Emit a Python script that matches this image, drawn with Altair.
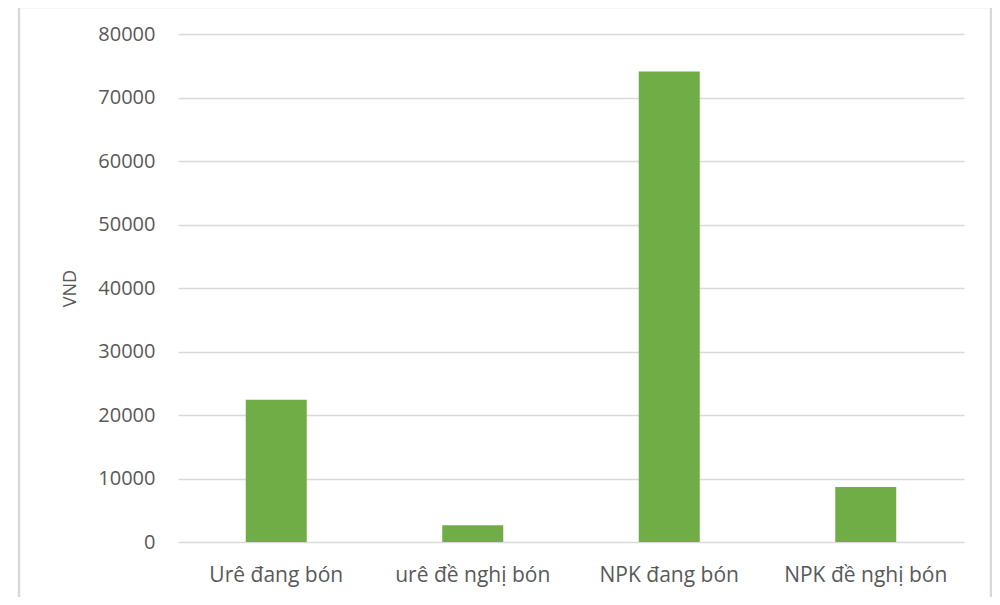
import altair as alt
import pandas as pd

categories = ["Urê đang bón", "urê đề nghị bón", "NPK đang bón", "NPK đề nghị bón"]
values = [22400, 2650, 74100, 8650]
y_ticks = [0, 10000, 20000, 30000, 40000, 50000, 60000, 70000, 80000]

df = pd.DataFrame({"cat": categories, "val": values})

FONT = "Open Sans"
TEXT = "#595959"
GRID = "#d9d9d9"

bars = alt.Chart(df).mark_bar(color="#70AD47", size=61).encode(
    x=alt.X("cat:N", sort=categories, title=None,
            scale=alt.Scale(paddingInner=0, paddingOuter=0),
            axis=alt.Axis(labelAngle=0, labelFont=FONT, labelFontSize=21,
                          labelColor=TEXT, labelPadding=22, ticks=False,
                          domain=False, grid=False)),
    y=alt.Y("val:Q", title="VND",
            scale=alt.Scale(domain=[0, 80000], nice=False),
            axis=alt.Axis(values=y_ticks, format="d", labelFont=FONT,
                          labelFontSize=20, labelColor=TEXT, labelPadding=23,
                          ticks=False, domain=False, grid=True,
                          gridColor=GRID, gridWidth=1.5,
                          titleFont=FONT, titleFontSize=18, titleColor=TEXT,
                          titleFontWeight="normal", titleX=-108, titleY=254,
                          titleAngle=270, titleAlign="center",
                          titleBaseline="middle")),
)

border = alt.Chart(pd.DataFrame({"a": [0]})).mark_rect(
    filled=False, stroke=GRID, strokeWidth=2.5
).encode(
    x=alt.value(-159), x2=alt.value(813),
    y=alt.value(-27), y2=alt.value(620),
)

chart = alt.layer(bars, border).properties(
    width=786, height=508,
    background="white",
    autosize=alt.AutoSizeParams(type="none"),
    padding={"left": 170, "top": 26, "right": 28, "bottom": 55},
).configure_view(strokeWidth=0, stroke="transparent")

chart.save("out.html", embed_options={"renderer": "svg", "actions": False})
